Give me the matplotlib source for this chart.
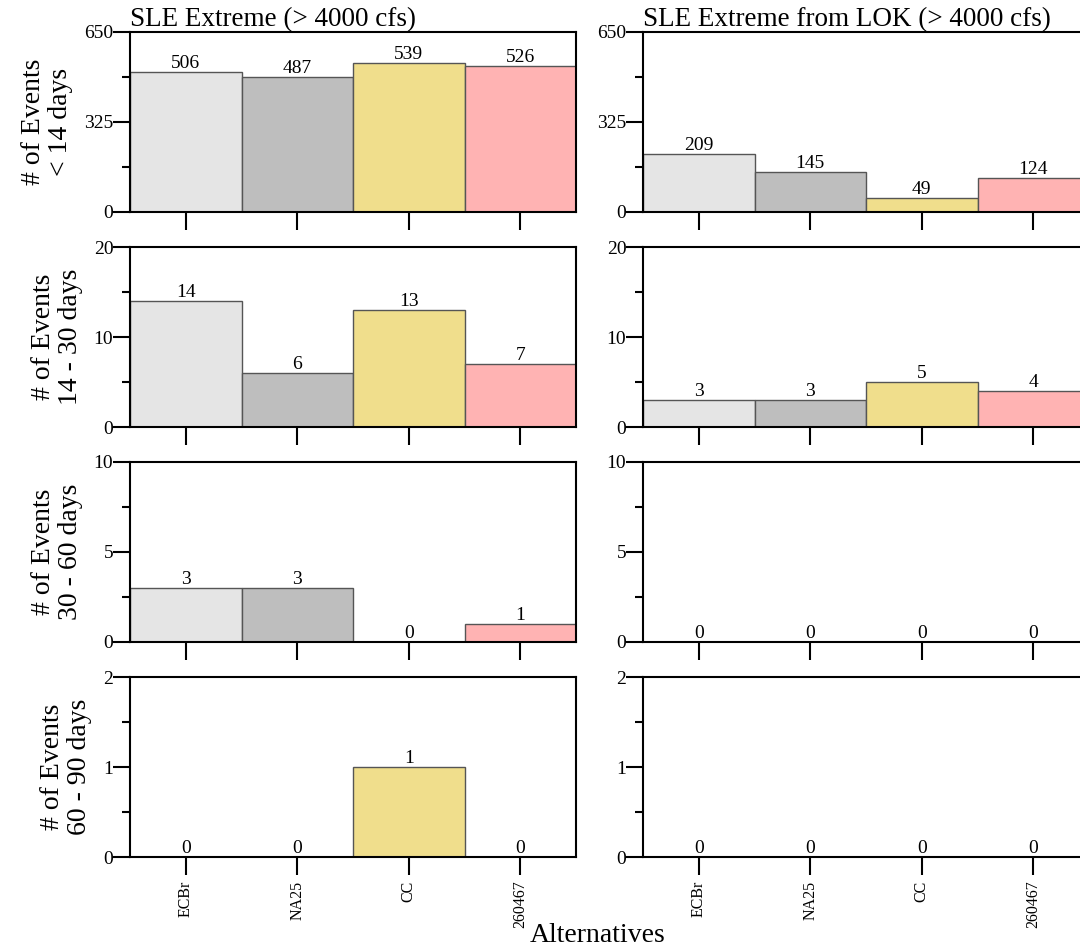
import numpy as np
import matplotlib
matplotlib.use('Agg')
import matplotlib.pyplot as plt
from matplotlib.ticker import MultipleLocator

plt.rcParams['font.family'] = ['Liberation Serif', 'DejaVu Serif']

# Data
alternatives = ['ECBr', 'NA25', 'CC', '260467']
colors = ['#e5e5e5', '#bebebe', '#f0de8c', '#ffb3b3']
col_titles = ['SLE Extreme (> 4000 cfs)', 'SLE Extreme from LOK (> 4000 cfs)']
row_labels = ['# of Events\n< 14 days', '# of Events\n14 - 30 days',
              '# of Events\n30 - 60 days', '# of Events\n60 - 90 days']
row_ymax = [650, 20, 10, 2]

sle_lt14 = [506, 487, 539, 526]
sle_14_30 = [14, 6, 13, 7]
sle_30_60 = [3, 3, 0, 1]
sle_60_90 = [0, 0, 1, 0]

lok_lt14 = [209, 145, 49, 124]
lok_14_30 = [3, 3, 5, 4]
lok_30_60 = [0, 0, 0, 0]
lok_60_90 = [0, 0, 0, 0]

data = [[sle_lt14, lok_lt14],
        [sle_14_30, lok_14_30],
        [sle_30_60, lok_30_60],
        [sle_60_90, lok_60_90]]

W, H = 1080, 949
fig = plt.figure(figsize=(W / 100, H / 100), dpi=100)

col_left = [130, 643]
ax_w = 446
row_top = [32, 247, 462, 677]
ax_h = 180

x = np.arange(1, len(alternatives) + 1)

for r in range(4):
    for c in range(2):
        ax = fig.add_axes([col_left[c] / W, 1 - (row_top[r] + ax_h) / H,
                           ax_w / W, ax_h / H])
        vals = data[r][c]
        ax.bar(x, vals, width=1.0, color=colors, edgecolor='#555555',
               linewidth=1.0, zorder=2)
        for xi, v in zip(x, vals):
            ax.text(xi, v, str(v), ha='center', va='bottom', fontsize=14,
                    zorder=3)
        ax.set_xlim(0.5, 4.5)
        ax.set_ylim(0, row_ymax[r])
        ax.yaxis.set_major_locator(MultipleLocator(row_ymax[r] / 2))
        ax.yaxis.set_minor_locator(MultipleLocator(row_ymax[r] / 4))
        ax.set_xticks(x)
        if r == 3:
            ax.set_xticklabels(alternatives, rotation=90, fontsize=11.5)
        else:
            ax.set_xticklabels([])
        ax.tick_params(axis='y', which='major', direction='out', length=12,
                       width=1.5, labelsize=14, pad=0)
        ax.tick_params(axis='y', which='minor', direction='out', length=6,
                       width=1.5)
        ax.tick_params(axis='x', direction='out', length=13, width=1.5, pad=4)
        for s in ax.spines.values():
            s.set_linewidth(1.5)
        if c == 0:
            ax.set_ylabel(row_labels[r], fontsize=20, labelpad=8,
                          linespacing=1.1)
        if r == 0:
            ax.set_title(col_titles[c], loc='left', fontsize=19.5, pad=0,
                         x=0.0)

fig.text(598 / W, 1 - 935 / H, 'Alternatives', ha='center', va='center',
         fontsize=20)

fig.savefig('out.png', dpi=100)
